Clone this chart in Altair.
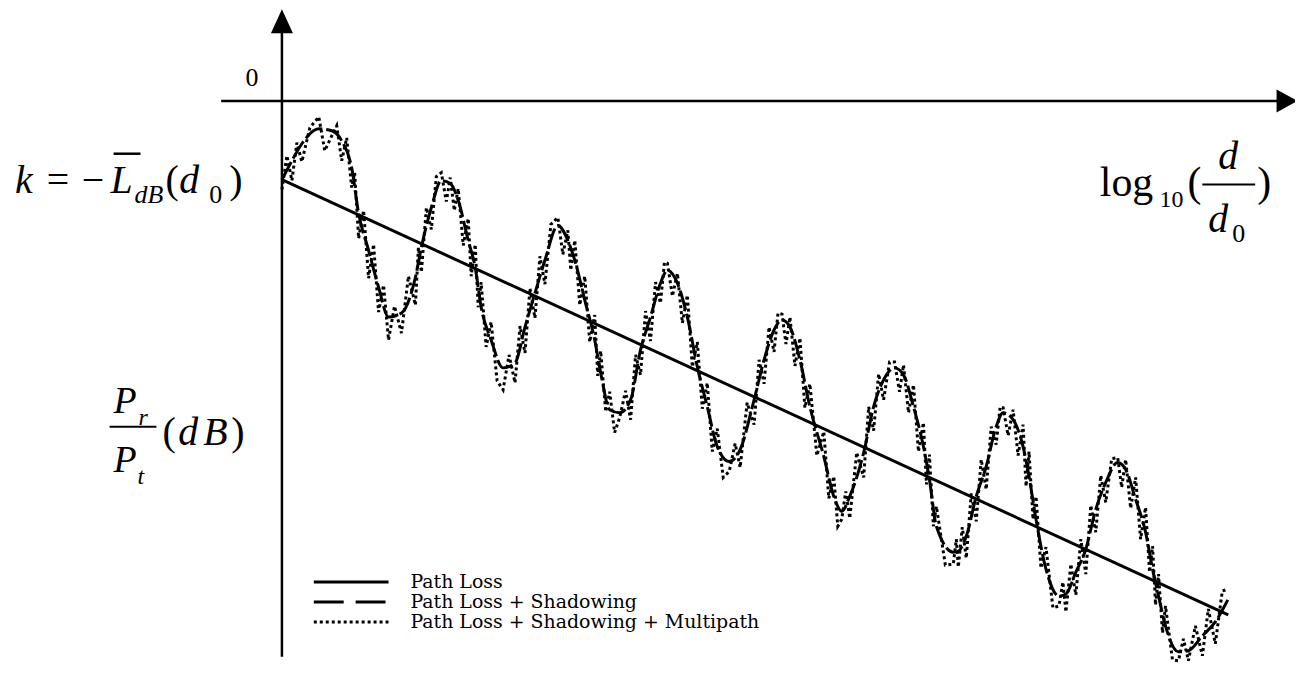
import altair as alt
import pandas as pd

# ---------------- data: x = log10(d/d0), y = Pr/Pt (dB) ----------------
path_loss_x = [0.0, 9.50]
path_loss_y = [-7.9, -51.6]

shadow_x = [0.00, 0.10, 0.20, 0.37, 0.50, 0.60, 0.70, 0.77, 0.87, 0.97,
            1.07, 1.20, 1.34, 1.40, 1.50, 1.60, 1.69, 1.77, 1.87, 1.94,
            2.00, 2.10, 2.22, 2.34, 2.44, 2.54, 2.64, 2.77, 2.87, 2.94,
            3.04, 3.14, 3.20, 3.29, 3.39, 3.50, 3.60, 3.70, 3.80, 3.87,
            3.97, 4.07, 4.17, 4.27, 4.37, 4.49, 4.60, 4.74, 4.84, 4.94,
            5.02, 5.10, 5.20, 5.30, 5.44, 5.54, 5.62, 5.70, 5.84, 5.94,
            6.04, 6.15, 6.24, 6.34, 6.44, 6.50, 6.57, 6.74, 6.79, 6.87,
            6.97, 7.07, 7.17, 7.24, 7.34, 7.44, 7.50, 7.57, 7.67, 7.80,
            7.87, 7.97, 8.07, 8.17, 8.27, 8.39, 8.47, 8.57, 8.67, 8.74,
            8.80, 8.87, 9.00, 9.10, 9.24, 9.37, 9.50]

shadow_y = [-7.9, -6.0, -4.3, -2.8, -3.0, -4.0, -6.7, -11.3, -15.0, -18.7,
            -21.7, -21.3, -17.7, -14.7, -10.7, -8.0, -8.3, -10.0, -14.0, -16.7,
            -20.7, -24.0, -26.8, -26.3, -22.7, -19.3, -16.0, -12.5, -14.0, -16.0,
            -20.0, -24.0, -27.3, -31.0, -31.3, -30.0, -25.0, -21.7, -18.3, -17.0,
            -18.3, -21.7, -26.7, -30.7, -34.7, -36.2, -35.0, -30.0, -26.0, -23.0,
            -22.0, -22.7, -26.0, -30.7, -35.7, -39.7, -41.2, -39.7, -35.3, -30.7,
            -28.0, -26.8, -27.5, -30.7, -34.7, -38.0, -42.7, -45.3, -45.2, -43.7,
            -39.7, -36.7, -32.7, -31.3, -32.0, -34.7, -37.7, -42.0, -47.0, -49.7,
            -49.5, -47.3, -45.0, -41.0, -38.3, -36.3, -37.0, -40.0, -43.3, -47.0,
            -49.7, -52.7, -55.3, -55.2, -53.7, -52.3, -50.0]

multipath_x = [0.00, 0.05, 0.10, 0.15, 0.20, 0.28, 0.37, 0.43, 0.50, 0.55,
               0.60, 0.65, 0.70, 0.73, 0.77, 0.82, 0.87, 0.92, 0.97, 1.02,
               1.07, 1.13, 1.20, 1.27, 1.34, 1.37, 1.40, 1.45, 1.50, 1.55,
               1.60, 1.65, 1.69, 1.73, 1.77, 1.82, 1.87, 1.90, 1.94, 1.97,
               2.00, 2.05, 2.10, 2.16, 2.22, 2.28, 2.34, 2.39, 2.44, 2.49,
               2.54, 2.59, 2.64, 2.70, 2.77, 2.82, 2.87, 2.90, 2.94, 2.99,
               3.04, 3.09, 3.14, 3.17, 3.20, 3.25, 3.29, 3.34, 3.39, 3.45,
               3.50, 3.55, 3.60, 3.65, 3.70, 3.75, 3.80, 3.84, 3.87, 3.92,
               3.97, 4.02, 4.07, 4.12, 4.17, 4.22, 4.27, 4.32, 4.37, 4.43,
               4.49, 4.55, 4.60, 4.67, 4.74, 4.79, 4.84, 4.89, 4.94, 4.98,
               5.02, 5.06, 5.10, 5.15, 5.20, 5.25, 5.30, 5.37, 5.44, 5.49,
               5.54, 5.58, 5.62, 5.66, 5.70, 5.77, 5.84, 5.89, 5.94, 5.99,
               6.04, 6.10, 6.15, 6.20, 6.24, 6.29, 6.34, 6.39, 6.44, 6.47,
               6.50, 6.54, 6.57, 6.66, 6.74, 6.77, 6.79, 6.83, 6.87, 6.92,
               6.97, 7.02, 7.07, 7.12, 7.17, 7.21, 7.24, 7.29, 7.34, 7.39,
               7.44, 7.47, 7.50, 7.54, 7.57, 7.62, 7.67, 7.74, 7.80, 7.84,
               7.87, 7.92, 7.97, 8.02, 8.07, 8.12, 8.17, 8.22, 8.27, 8.33,
               8.39, 8.43, 8.47, 8.52, 8.57, 8.62, 8.67, 8.71, 8.74, 8.77,
               8.80, 8.84, 8.87, 8.94, 9.00, 9.05, 9.10, 9.17, 9.24, 9.30,
               9.37, 9.44, 9.50]

multipath_y = [-8.9, -5.5, -8.0, -4.2, -6.1, -2.7, -1.6, -5.0, -3.5, -2.5,
               -6.0, -3.7, -8.7, -7.2, -13.8, -11.0, -17.8, -14.4, -21.2, -18.5,
               -24.0, -20.6, -23.3, -17.6, -20.5, -14.7, -17.2, -10.7, -12.9, -7.6,
               -7.2, -10.1, -7.7, -11.0, -8.8, -14.5, -11.8, -17.6, -14.4, -20.7,
               -18.2, -24.7, -22.2, -28.1, -29.0, -25.5, -28.3, -22.6, -25.3, -18.8,
               -21.8, -15.6, -18.4, -12.4, -11.7, -15.4, -13.0, -17.0, -14.0, -20.5,
               -17.6, -24.2, -21.5, -27.6, -25.1, -31.2, -29.2, -33.3, -31.8, -29.1,
               -32.0, -25.5, -27.5, -21.1, -24.1, -18.2, -20.3, -16.2, -16.3, -19.6,
               -17.3, -22.3, -19.5, -26.7, -24.2, -30.9, -28.3, -35.2, -32.9, -37.8,
               -37.2, -34.4, -36.8, -30.3, -32.5, -26.0, -28.4, -22.7, -25.2, -21.3,
               -21.4, -24.4, -21.7, -26.6, -23.8, -30.8, -28.4, -35.6, -33.2, -39.9,
               -37.7, -42.7, -42.0, -39.2, -41.9, -35.3, -37.8, -30.7, -33.1, -27.4,
               -30.0, -26.2, -26.2, -29.2, -26.5, -31.3, -28.5, -35.2, -32.3, -38.5,
               -35.5, -42.7, -40.7, -46.6, -46.5, -44.0, -46.8, -42.8, -45.9, -39.4,
               -42.2, -36.0, -39.0, -32.7, -34.5, -30.7, -30.8, -33.6, -31.0, -35.6,
               -32.5, -38.7, -35.2, -42.0, -39.7, -46.9, -44.8, -50.9, -50.7, -48.3,
               -51.3, -46.5, -49.6, -44.0, -47.5, -40.6, -43.3, -37.6, -40.3, -35.9,
               -35.8, -38.8, -36.0, -40.9, -37.8, -44.0, -40.8, -47.3, -44.7, -50.6,
               -47.5, -53.4, -50.7, -56.1, -56.2, -54.0, -56.2, -52.7, -55.7, -51.0,
               -54.5, -49.2, -49.0]

legend_labels = ["Path Loss", "Path Loss + Shadowing", "Path Loss + Shadowing + Multipath"]
origin_label = "0"

# axis extents (data units)
x_axis_from, x_axis_to = -0.61, 10.0
y_axis_from, y_axis_to = 7.0, -55.8

# ---------------- layout ----------------
W, H = 1292, 658
xs = alt.Scale(domain=[-2.75, 10.17], nice=False, zero=False)
ys = alt.Scale(domain=[-56.6, 9.2], nice=False, zero=False)
ONE = alt.Data(values=[{"a": 1}])
SERIF = "Liberation Serif, Times New Roman, Times, serif"
LEGEND_FONT = "DejaVu Serif"


def P(v):
    return v - 8  # page pixel -> chart pixel


def series(xv, yv, dash=None, interp="linear"):
    df = pd.DataFrame({"x": xv, "y": yv, "i": list(range(len(xv)))})
    props = dict(color="black", strokeWidth=3, interpolate=interp, strokeCap="butt")
    if dash is not None:
        props["strokeDash"] = dash
    return alt.Chart(df).mark_line(**props).encode(
        x=alt.X("x:Q", scale=xs, axis=None),
        y=alt.Y("y:Q", scale=ys, axis=None),
        order="i:Q",
    )


def txt(s, x, y, size, italic=False, align="left", font=SERIF, **kw):
    return alt.Chart(ONE).mark_text(
        text=s, font=font, fontSize=size,
        fontStyle="italic" if italic else "normal",
        align=align, baseline="alphabetic", color="black", **kw
    ).encode(x=alt.value(P(x)), y=alt.value(P(y)))


def hrule(x1, x2, y, w=2, dash=None):
    props = dict(color="black", strokeWidth=w, strokeCap="butt")
    if dash is not None:
        props["strokeDash"] = dash
    return alt.Chart(ONE).mark_rule(**props).encode(
        x=alt.value(P(x1)), x2=alt.value(P(x2)), y=alt.value(P(y)))


layers = []

# axes
xax = pd.DataFrame({"x": [x_axis_from], "x2": [x_axis_to], "y": [0.0]})
layers.append(alt.Chart(xax).mark_rule(color="black", strokeWidth=2.5).encode(
    x=alt.X("x:Q", scale=xs, axis=None), x2="x2:Q", y=alt.Y("y:Q", scale=ys, axis=None)))
yax = pd.DataFrame({"x": [0.0], "y": [y_axis_from], "y2": [y_axis_to]})
layers.append(alt.Chart(yax).mark_rule(color="black", strokeWidth=2.5).encode(
    x=alt.X("x:Q", scale=xs, axis=None), y=alt.Y("y:Q", scale=ys, axis=None), y2="y2:Q"))

# arrow heads
up = pd.DataFrame({"x": [0.0], "y": [8.0]})
layers.append(alt.Chart(up).mark_point(shape="M0,-1L0.92,1L-0.92,1Z", size=576, filled=True,
                                       color="black", opacity=1, strokeWidth=0).encode(
    x=alt.X("x:Q", scale=xs, axis=None), y=alt.Y("y:Q", scale=ys, axis=None)))
right = pd.DataFrame({"x": [10.09], "y": [0.0]})
layers.append(alt.Chart(right).mark_point(shape="M1,0L-1,-1.1L-1,1.1Z", size=441, filled=True,
                                          color="black", opacity=1, strokeWidth=0).encode(
    x=alt.X("x:Q", scale=xs, axis=None), y=alt.Y("y:Q", scale=ys, axis=None)))

# curves
layers.append(series(path_loss_x, path_loss_y))
layers.append(series(shadow_x, shadow_y, dash=[20, 4], interp="monotone"))
layers.append(series(multipath_x, multipath_y, dash=[3, 3]))

# origin label
layers.append(txt(origin_label, 253, 85, 26, align="center"))

# k = -L_dB(d0)
layers += [
    txt("k", 15, 192, 40, italic=True),
    txt("=", 47, 192, 40),
    txt("\u2212", 82, 192, 40),
    txt("L", 111, 192, 40, italic=True),
    hrule(114, 141, 153, w=2.5),
    txt("dB", 135, 202, 26, italic=True),
    txt("(", 166, 192, 40),
    txt("d", 180, 192, 40, italic=True),
    txt("0", 210, 202, 26),
    txt(")", 230, 192, 40),
]

# Pr/Pt (dB)
layers += [
    txt("P", 114, 413, 38, italic=True),
    txt("r", 139, 425, 24, italic=True),
    hrule(110, 157, 427, w=2),
    txt("P", 114, 473, 38, italic=True),
    txt("t", 138, 485, 24, italic=True),
    txt("(", 163, 445, 40),
    txt("d", 179, 445, 40, italic=True),
    txt("B", 204, 445, 40, italic=True),
    txt(")", 232, 445, 40),
]

# log10(d/d0)
layers += [
    txt("log", 1104, 195, 42),
    txt("10", 1164, 206, 24),
    txt("(", 1192, 195, 42),
    txt("d", 1233, 168, 40, italic=True, align="center"),
    hrule(1207, 1260, 184, w=2),
    txt("d", 1213, 232, 40, italic=True),
    txt("0", 1237, 242, 26),
    txt(")", 1262, 195, 42),
]

# legend
leg_y = [583, 603, 623]
layers.append(hrule(315, 390, leg_y[0], w=3))
layers.append(hrule(315, 387, leg_y[1], w=3, dash=[30, 12]))
layers.append(hrule(315, 390, leg_y[2], w=3, dash=[3, 3]))
layers.append(txt(legend_labels, 412, leg_y[0] + 6, 19, font=LEGEND_FONT, lineHeight=20))

chart = alt.layer(*layers).properties(
    width=W, height=H, padding=0,
    autosize=alt.AutoSizeParams(type="none"),
).configure_view(stroke=None)

chart.save("out.html", embed_options={"renderer": "svg", "actions": False})
